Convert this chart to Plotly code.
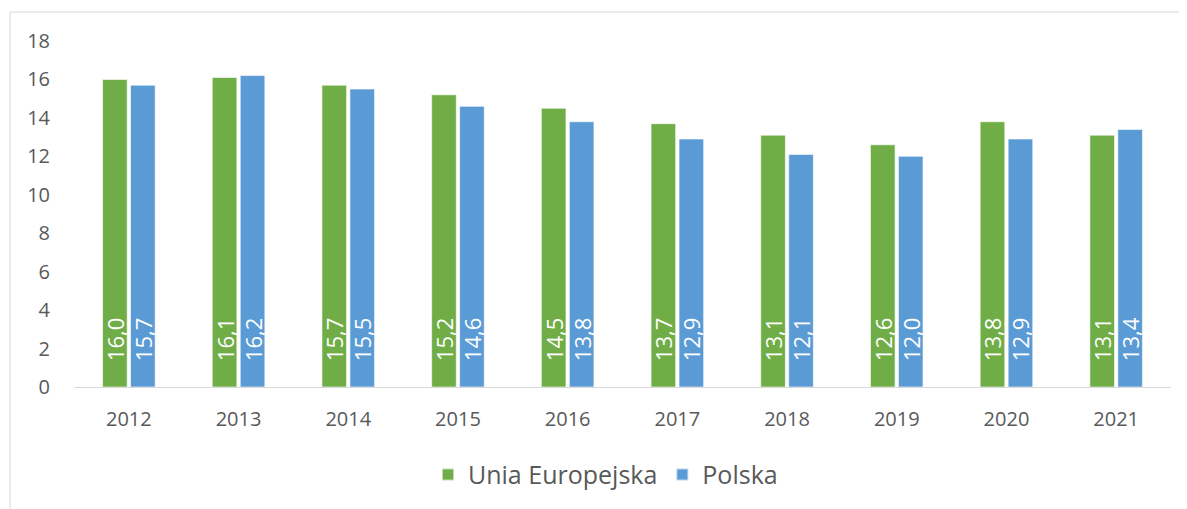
import plotly.graph_objects as go

years = ["2012", "2013", "2014", "2015", "2016", "2017", "2018", "2019", "2020", "2021"]
ue = [16.0, 16.1, 15.7, 15.2, 14.5, 13.7, 13.1, 12.6, 13.8, 13.1]
pl = [15.7, 16.2, 15.5, 14.6, 13.8, 12.9, 12.1, 12.0, 12.9, 13.4]
names = ["Unia Europejska", "Polska"]
colors = ["#70AD47", "#5B9BD5"]

def fmt(v):
    return "\u00a0\u00a0\u00a0\u00a0" + f"{v:.1f}".replace(".", ",")

fig = go.Figure()
for vals, name, col in [(ue, names[0], colors[0]), (pl, names[1], colors[1])]:
    fig.add_trace(go.Bar(
        x=years, y=vals, name=name,
        marker=dict(color=col, line=dict(color="rgba(255,255,255,0.6)", width=1)),
        text=[fmt(v) for v in vals], textposition="inside", insidetextanchor="start",
        constraintext="none",
        textangle=-90, textfont=dict(color="white", size=22, family="Open Sans"),
        cliponaxis=False,
    ))

# page body has an 8px margin
L, T = 66, 33
W, H = 1179, 501
pw, ph = 1097, 347
R = W - L - pw
B = H - T - ph

fig.update_layout(
    width=W, height=H,
    margin=dict(l=L, r=R, t=T, b=B),
    paper_bgcolor="white", plot_bgcolor="white",
    barmode="group", bargap=0.49, bargroupgap=0.12,
    font=dict(family="Open Sans", color="#595959"),
    xaxis=dict(showgrid=False, showline=True, linecolor="#d9d9d9", linewidth=1,
               ticks="", tickfont=dict(size=20, color="#595959"), ticklabelstandoff=14),
    yaxis=dict(range=[0, 18], dtick=2, showgrid=False, zeroline=False, showline=False,
               ticks="", tickfont=dict(size=20, color="#595959"), ticklabelstandoff=23),
    legend=dict(orientation="h", x=0.5 - 17 / pw, xanchor="center", y=-0.25, yanchor="middle",
                font=dict(size=25, color="#595959"), itemsizing="constant"),
    shapes=[dict(type="rect", xref="paper", yref="paper",
                 x0=(2 - L) / pw, x1=2.0, y0=-2.0, y1=(ph + T - 4) / ph,
                 line=dict(color="#d9d9d9", width=1), layer="below")],
)

fig.write_html("out.html")
